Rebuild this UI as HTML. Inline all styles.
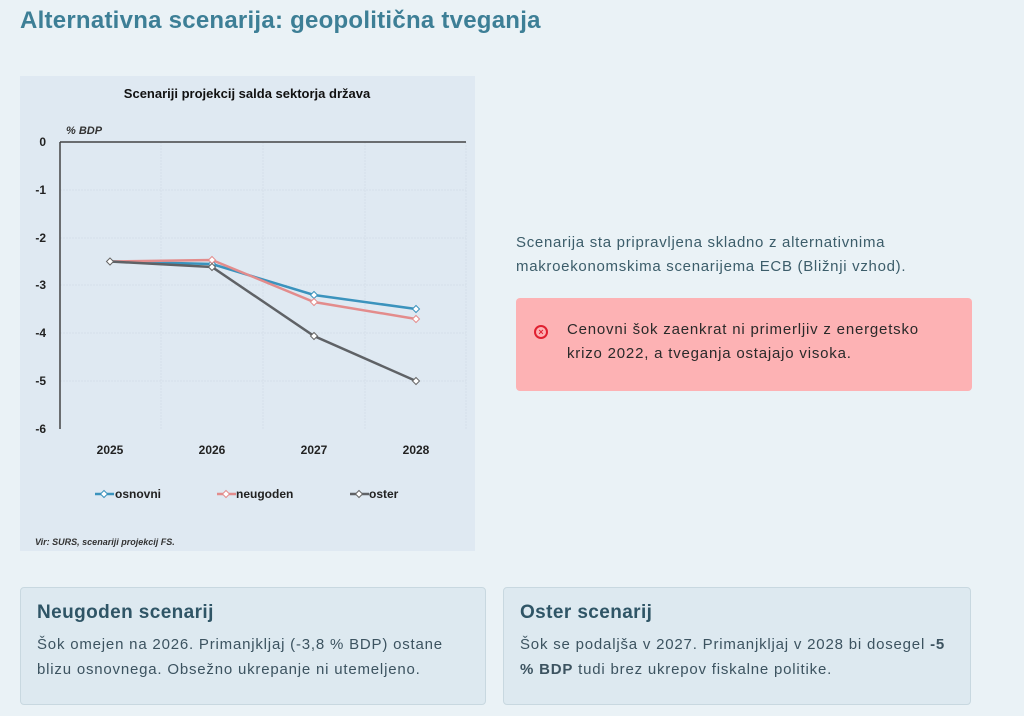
<!DOCTYPE html>
<html><head><meta charset="utf-8"><style>
body{margin:0;width:1024px;height:716px;background:#eaf2f6;font-family:"Liberation Sans",sans-serif;position:relative;overflow:hidden}
h1{position:absolute;left:20px;top:7px;margin:0;font-size:24px;color:#3d7f96;font-weight:bold;letter-spacing:0.25px}
.p{position:absolute;left:516px;top:231px;font-size:15px;line-height:24px;color:#3c5d6a;letter-spacing:0.7px}
.alert{position:absolute;left:516px;top:298px;width:456px;height:93px;background:#fdb2b4;border-radius:4px;box-sizing:border-box;padding:20px 0 0 51px;font-size:15px;line-height:24px;color:#2a2a2a;letter-spacing:0.8px}
.ic{position:absolute;left:18px;top:27px;width:10px;height:10px;border:2px solid #e02030;border-radius:50%;font-size:9px;line-height:10px;text-align:center;color:#e02030;font-weight:bold;letter-spacing:0}
.card{position:absolute;top:587px;height:118px;background:#dde9f0;border:1px solid #c8d8e0;border-radius:4px;box-sizing:border-box;padding:14px 16px}
.card h2{margin:0 0 8px;font-size:19px;color:#2f5566;letter-spacing:0.4px}
.card div{font-size:15px;line-height:25px;color:#3c5360;letter-spacing:0.8px}
</style></head><body>
<h1>Alternativna scenarija: geopolitična tveganja</h1>
<svg style="position:absolute;left:0;top:0" width="1024" height="716">
<rect x="20" y="76" width="455" height="475" fill="#dfe9f2"/>
<text x="247" y="98" font-size="13" font-weight="bold" text-anchor="middle" fill="#111">Scenariji projekcij salda sektorja država</text>
<text x="66" y="134" font-size="11" font-style="italic" font-weight="bold" fill="#333">% BDP</text>
<g stroke="#d5e0e9" stroke-width="1" stroke-dasharray="2,1">
<line x1="60" y1="190" x2="466" y2="190"/><line x1="60" y1="238" x2="466" y2="238"/><line x1="60" y1="285" x2="466" y2="285"/><line x1="60" y1="333" x2="466" y2="333"/><line x1="60" y1="381" x2="466" y2="381"/>
<line x1="161" y1="142" x2="161" y2="429"/><line x1="263" y1="142" x2="263" y2="429"/><line x1="365" y1="142" x2="365" y2="429"/><line x1="466" y1="142" x2="466" y2="429"/>
</g>
<g stroke="#444" stroke-width="1.5" fill="none"><line x1="60" y1="142" x2="466" y2="142"/><line x1="60" y1="142" x2="60" y2="429"/></g>
<g font-size="12" font-weight="bold" fill="#222" text-anchor="end">
<text x="46" y="146">0</text><text x="46" y="194">-1</text><text x="46" y="242">-2</text><text x="46" y="289">-3</text><text x="46" y="337">-4</text><text x="46" y="385">-5</text><text x="46" y="433">-6</text></g>
<g font-size="12" font-weight="bold" fill="#222" text-anchor="middle">
<text x="110" y="454">2025</text><text x="212" y="454">2026</text><text x="314" y="454">2027</text><text x="416" y="454">2028</text></g>
<polyline points="110,261.5 212,264 314,295 416,309" stroke="#3b93bd" stroke-width="2.5" fill="none"/>
<polyline points="110,261.5 212,260 314,302 416,319" stroke="#e38c8c" stroke-width="2.5" fill="none"/>
<polyline points="110,261.5 212,267 314,336 416,381" stroke="#5f6266" stroke-width="2.5" fill="none"/>
<g fill="#fff" stroke-width="1">
<path d="M110 258l3.5 3.5-3.5 3.5-3.5-3.5z" stroke="#666"/>
<path d="M212 260.5l3.5 3.5-3.5 3.5-3.5-3.5z" stroke="#3b93bd"/>
<path d="M212 256.5l3.5 3.5-3.5 3.5-3.5-3.5z" stroke="#e38c8c"/>
<path d="M212 263.5l3.5 3.5-3.5 3.5-3.5-3.5z" stroke="#666"/>
<path d="M314 291.5l3.5 3.5-3.5 3.5-3.5-3.5z" stroke="#3b93bd"/>
<path d="M314 298.5l3.5 3.5-3.5 3.5-3.5-3.5z" stroke="#e38c8c"/>
<path d="M314 332.5l3.5 3.5-3.5 3.5-3.5-3.5z" stroke="#666"/>
<path d="M416 305.5l3.5 3.5-3.5 3.5-3.5-3.5z" stroke="#3b93bd"/>
<path d="M416 315.5l3.5 3.5-3.5 3.5-3.5-3.5z" stroke="#e38c8c"/>
<path d="M416 377.5l3.5 3.5-3.5 3.5-3.5-3.5z" stroke="#666"/>
</g>
<g font-size="12" font-weight="bold" fill="#222">
<line x1="95" y1="494" x2="114" y2="494" stroke="#3b93bd" stroke-width="2.5"/><path d="M104 490.5l3.5 3.5-3.5 3.5-3.5-3.5z" fill="#fff" stroke="#3b93bd"/><text x="115" y="498">osnovni</text>
<line x1="217" y1="494" x2="236" y2="494" stroke="#e38c8c" stroke-width="2.5"/><path d="M226 490.5l3.5 3.5-3.5 3.5-3.5-3.5z" fill="#fff" stroke="#e38c8c"/><text x="236" y="498">neugoden</text>
<line x1="350" y1="494" x2="369" y2="494" stroke="#5f6266" stroke-width="2.5"/><path d="M359 490.5l3.5 3.5-3.5 3.5-3.5-3.5z" fill="#fff" stroke="#666"/><text x="369" y="498">oster</text>
</g>
<text x="35" y="545" font-size="9" font-style="italic" font-weight="bold" fill="#333">Vir: SURS, scenariji projekcij FS.</text>
</svg>
<div class="p">Scenarija sta pripravljena skladno z alternativnima<br>makroekonomskima scenarijema ECB (Bližnji vzhod).</div>
<div class="alert"><span class="ic">×</span>Cenovni šok zaenkrat ni primerljiv z energetsko<br>krizo 2022, a tveganja ostajajo visoka.</div>
<div class="card" style="left:20px;width:466px"><h2>Neugoden scenarij</h2><div>Šok omejen na 2026. Primanjkljaj (-3,8 % BDP) ostane<br>blizu osnovnega. Obsežno ukrepanje ni utemeljeno.</div></div>
<div class="card" style="left:503px;width:468px"><h2>Oster scenarij</h2><div>Šok se podaljša v 2027. Primanjkljaj v 2028 bi dosegel <b>-5<br>% BDP</b> tudi brez ukrepov fiskalne politike.</div></div>
</body></html>
